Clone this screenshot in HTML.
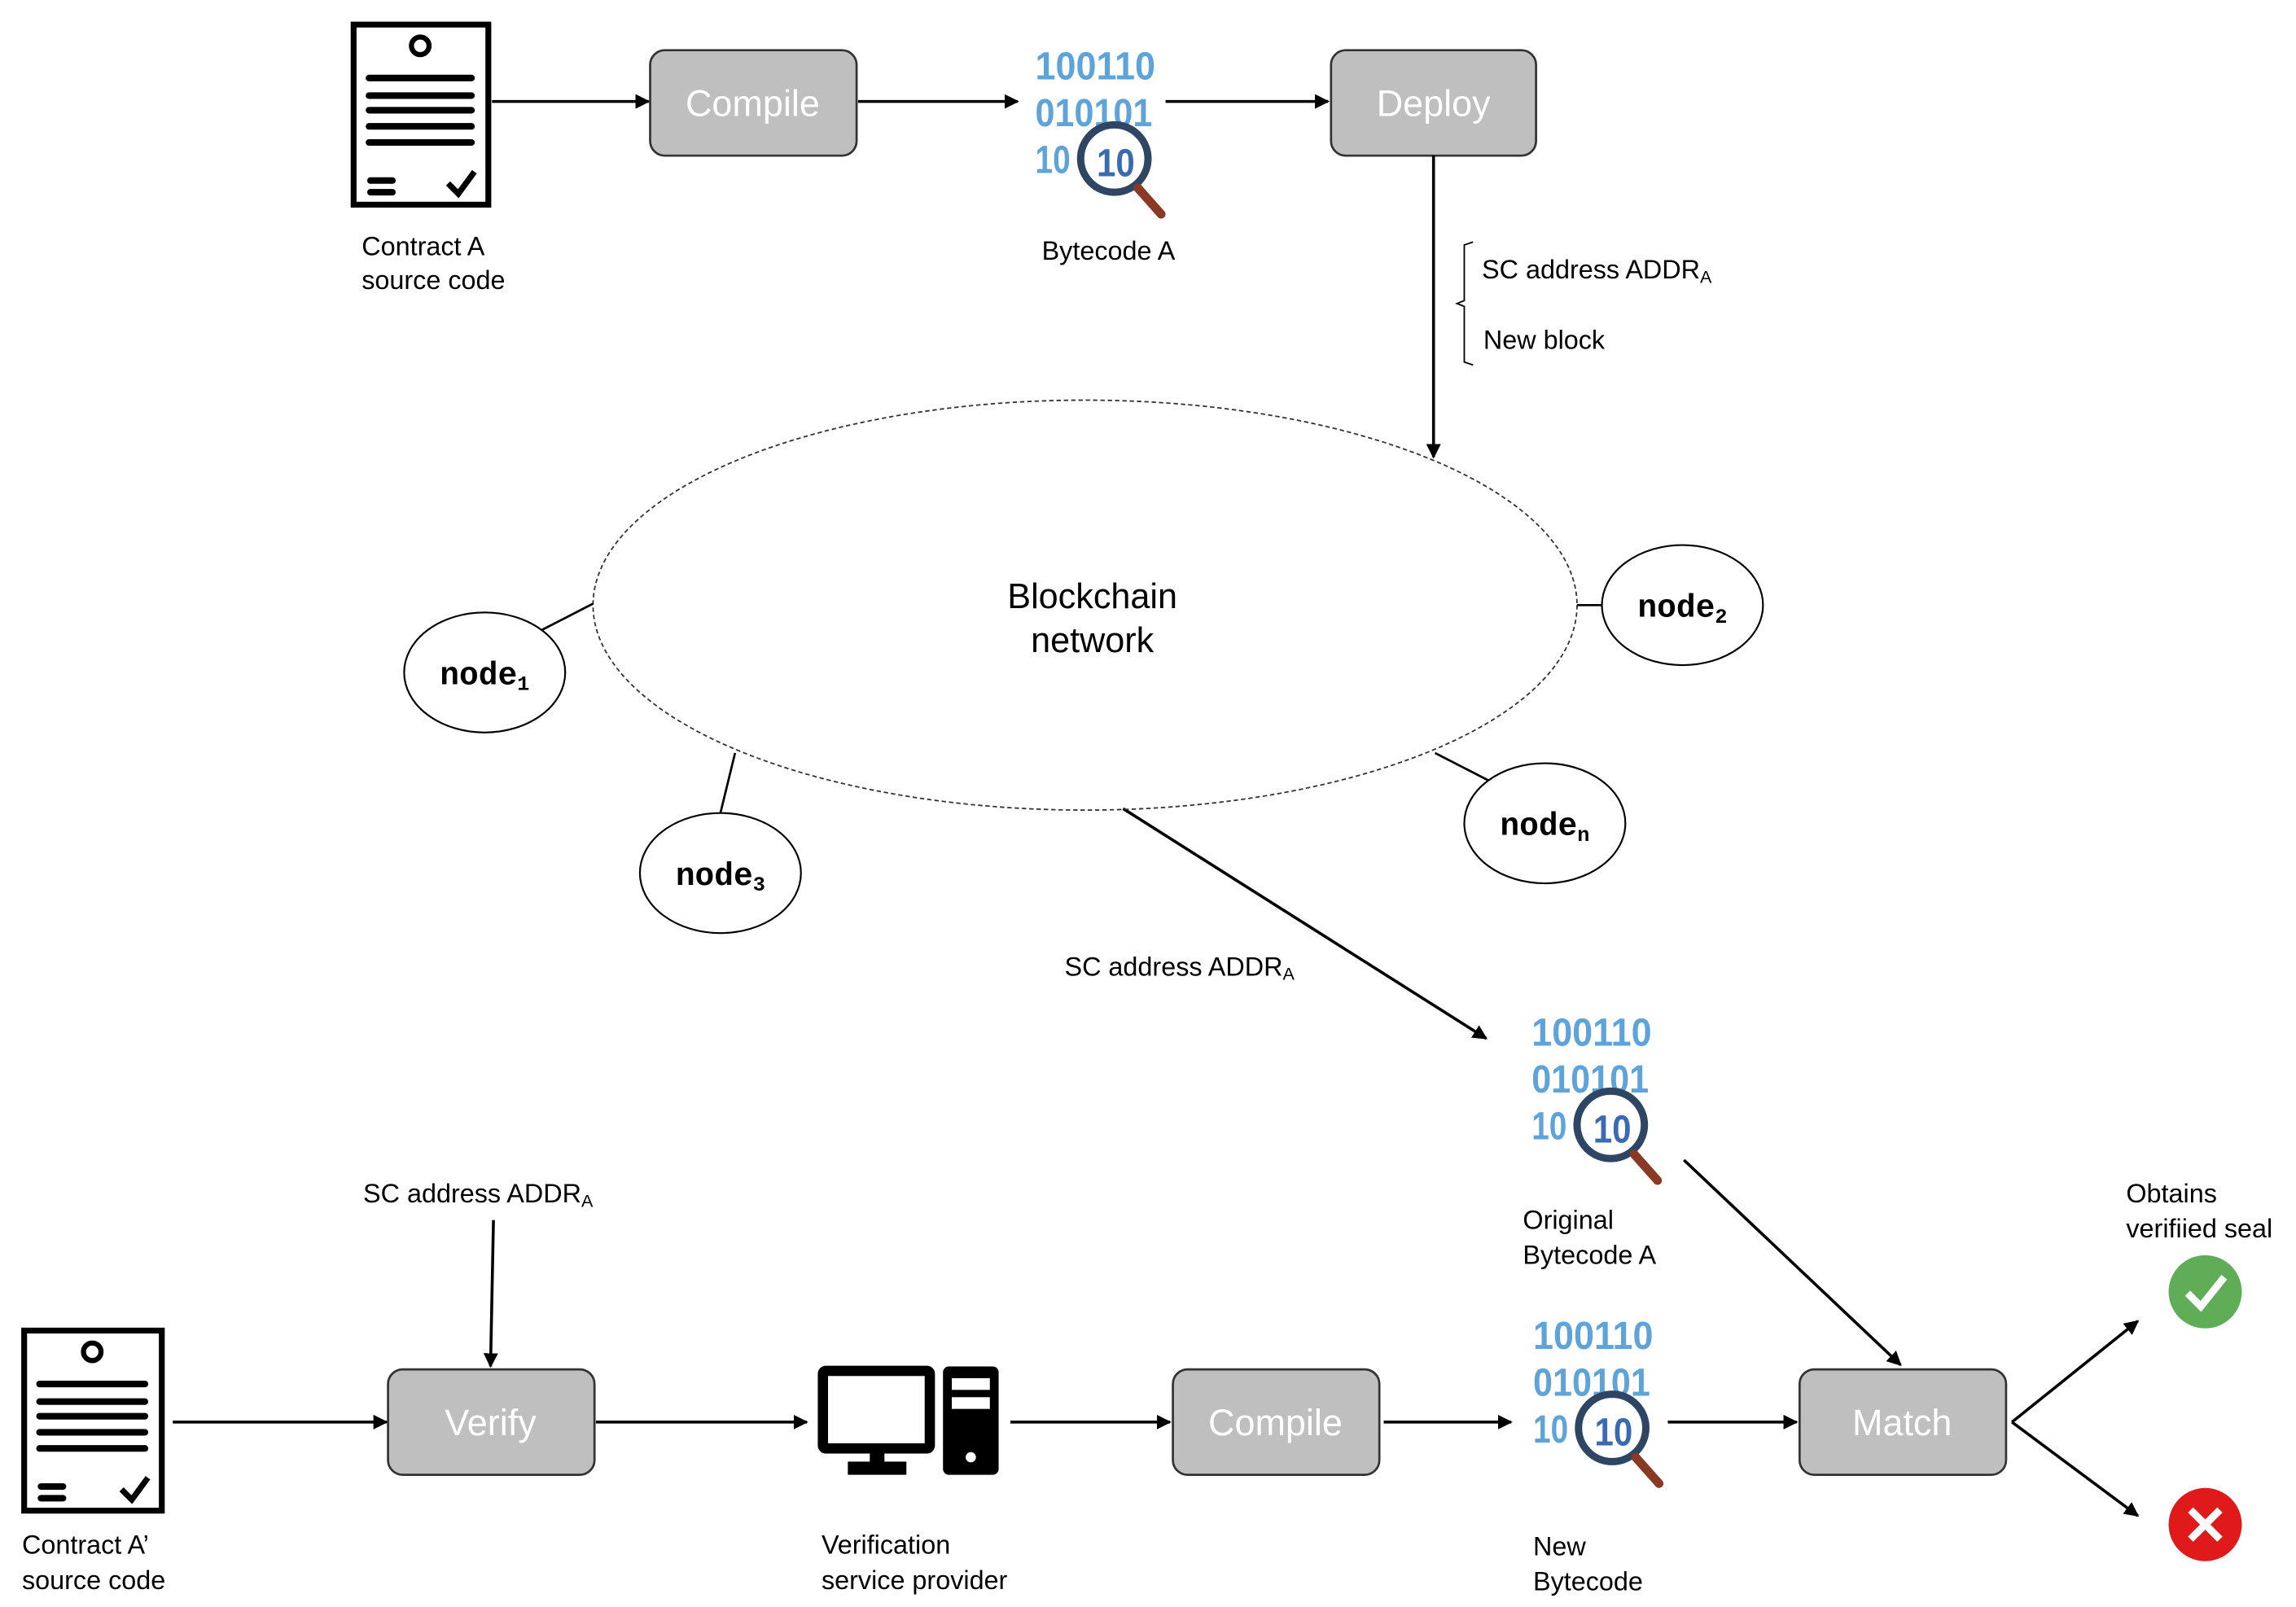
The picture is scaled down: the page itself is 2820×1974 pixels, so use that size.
<!DOCTYPE html>
<html><head><meta charset="utf-8"><style>
html,body{margin:0;padding:0;background:#fff}
svg{display:block}
text{font-family:"Liberation Sans",sans-serif;fill:#000}
.lbl{font-size:18px}
.btn{font-size:25px;fill:#fff;text-anchor:middle}
text.node{font-family:"Liberation Mono","DejaVu Sans Mono",monospace;font-weight:bold;font-size:22px;text-anchor:middle}
.bits{font-family:"Liberation Sans",sans-serif;font-weight:bold;font-size:27px;fill:#5ea3da}
</style></head><body>
<svg width="2820" height="1974" viewBox="0 0 1568 1097" xmlns="http://www.w3.org/2000/svg">
<defs>
<marker id="ar" markerWidth="10" markerHeight="10" refX="9" refY="5" orient="auto" markerUnits="userSpaceOnUse">
<path d="M0,0 L10,5 L0,10 Z" fill="#000"/></marker>
</defs>

<g transform="translate(240,15)">
<rect x="1.5" y="1.5" width="92" height="123" fill="#fff" stroke="#000" stroke-width="4"/>
<circle cx="47" cy="16" r="6" fill="none" stroke="#000" stroke-width="3.5"/>
<g stroke="#000" stroke-width="4.5" stroke-linecap="round"><line x1="12" y1="38" x2="82" y2="38"/><line x1="12" y1="50" x2="82" y2="50"/><line x1="12" y1="60" x2="82" y2="60"/><line x1="12" y1="71" x2="82" y2="71"/><line x1="12" y1="82" x2="82" y2="82"/><line x1="13" y1="108" x2="28" y2="108"/><line x1="13" y1="116" x2="28" y2="116"/></g>
<path d="M66,110 L73,117 L84,102" fill="none" stroke="#000" stroke-width="4"/>
</g>
<text class="lbl" x="247" y="174">Contract A</text>
<text class="lbl" x="247" y="197">source code</text>

<g fill="#bfbfbf" stroke="#333" stroke-width="1.5">
<rect x="444" y="34" width="141" height="72" rx="10"/>
<rect x="909" y="34" width="140" height="72" rx="10"/>
<rect x="265" y="935" width="141" height="72" rx="10"/>
<rect x="801" y="935" width="141" height="72" rx="10"/>
<rect x="1229" y="935" width="141" height="72" rx="10"/>
</g>
<text class="btn" x="514" y="79">Compile</text>
<text class="btn" x="979" y="79">Deploy</text>
<text class="btn" x="335" y="980">Verify</text>
<text class="btn" x="871" y="980">Compile</text>
<text class="btn" x="1299" y="980">Match</text>

<g transform="translate(707,32)">
<text class="bits" x="0" y="22" textLength="82" lengthAdjust="spacingAndGlyphs">100110</text>
<text class="bits" x="0" y="54" textLength="80" lengthAdjust="spacingAndGlyphs">010101</text>
<text class="bits" x="0" y="86" textLength="24" lengthAdjust="spacingAndGlyphs">10</text>
<circle cx="54" cy="76" r="23" fill="#fff" stroke="#2e4664" stroke-width="5"/>
<text class="bits" x="42" y="88" style="fill:#3a6ab0" textLength="26" lengthAdjust="spacingAndGlyphs">10</text>
<line x1="70" y1="96" x2="86" y2="114" stroke="#8a3a24" stroke-width="6" stroke-linecap="round"/>
</g>
<text class="lbl" x="757" y="177" text-anchor="middle">Bytecode A</text>

<g transform="translate(1046,692)">
<text class="bits" x="0" y="22" textLength="82" lengthAdjust="spacingAndGlyphs">100110</text>
<text class="bits" x="0" y="54" textLength="80" lengthAdjust="spacingAndGlyphs">010101</text>
<text class="bits" x="0" y="86" textLength="24" lengthAdjust="spacingAndGlyphs">10</text>
<circle cx="54" cy="76" r="23" fill="#fff" stroke="#2e4664" stroke-width="5"/>
<text class="bits" x="42" y="88" style="fill:#3a6ab0" textLength="26" lengthAdjust="spacingAndGlyphs">10</text>
<line x1="70" y1="96" x2="86" y2="114" stroke="#8a3a24" stroke-width="6" stroke-linecap="round"/>
</g>
<text class="lbl" x="1040" y="839">Original</text>
<text class="lbl" x="1040" y="863">Bytecode A</text>

<g transform="translate(1047,899)">
<text class="bits" x="0" y="22" textLength="82" lengthAdjust="spacingAndGlyphs">100110</text>
<text class="bits" x="0" y="54" textLength="80" lengthAdjust="spacingAndGlyphs">010101</text>
<text class="bits" x="0" y="86" textLength="24" lengthAdjust="spacingAndGlyphs">10</text>
<circle cx="54" cy="76" r="23" fill="#fff" stroke="#2e4664" stroke-width="5"/>
<text class="bits" x="42" y="88" style="fill:#3a6ab0" textLength="26" lengthAdjust="spacingAndGlyphs">10</text>
<line x1="70" y1="96" x2="86" y2="114" stroke="#8a3a24" stroke-width="6" stroke-linecap="round"/>
</g>
<text class="lbl" x="1047" y="1062">New</text>
<text class="lbl" x="1047" y="1086">Bytecode</text>

<g stroke="#000" stroke-width="2" fill="none" marker-end="url(#ar)">
<line x1="336" y1="69" x2="443" y2="69"/>
<line x1="586" y1="69" x2="695" y2="69"/>
<line x1="796" y1="69" x2="907" y2="69"/>
<line x1="979" y1="106" x2="979" y2="312"/>
<line x1="767" y1="552" x2="1015" y2="709"/>
<line x1="1150" y1="792" x2="1298" y2="932"/>
<line x1="118" y1="971" x2="264" y2="971"/>
<line x1="337" y1="833" x2="335" y2="933"/>
<line x1="407" y1="971" x2="551" y2="971"/>
<line x1="690" y1="971" x2="799" y2="971"/>
<line x1="945" y1="971" x2="1032" y2="971"/>
<line x1="1139" y1="971" x2="1227" y2="971"/>
<line x1="1374" y1="971" x2="1460" y2="902"/>
<line x1="1374" y1="971" x2="1460" y2="1035"/>
</g>

<path d="M1006,165 L1000,167 L1000,205 L995,207 L1000,209 L1000,247 L1006,249" fill="none" stroke="#000" stroke-width="1"/>
<text class="lbl" x="1012" y="190">SC address ADDR<tspan font-size="12" dy="3">A</tspan></text>
<text class="lbl" x="1013" y="238">New block</text>

<ellipse cx="741" cy="413" rx="336" ry="140" fill="none" stroke="#333" stroke-width="1" stroke-dasharray="3,2"/>
<text x="746" y="415" font-size="24" text-anchor="middle">Blockchain</text>
<text x="746" y="445" font-size="24" text-anchor="middle">network</text>
<g stroke="#000" stroke-width="1.5">
<line x1="370" y1="430" x2="405" y2="412"/>
<line x1="1077" y1="413" x2="1095" y2="413"/>
<line x1="502" y1="514" x2="492" y2="555"/>
<line x1="980" y1="514" x2="1017" y2="533"/>
</g>
<g fill="#fff" stroke="#000" stroke-width="1.2">
<ellipse cx="331" cy="459" rx="55" ry="41"/>
<ellipse cx="1149" cy="413" rx="55" ry="41"/>
<ellipse cx="492" cy="596" rx="55" ry="41"/>
<ellipse cx="1055" cy="562" rx="55" ry="41"/>
</g>
<text class="node" style="font-family:'Liberation Mono','DejaVu Sans Mono',monospace" x="331" y="467">node<tspan font-size="14" dy="4">1</tspan></text>
<text class="node" style="font-family:'Liberation Mono','DejaVu Sans Mono',monospace" x="1149" y="421">node<tspan font-size="14" dy="4">2</tspan></text>
<text class="node" style="font-family:'Liberation Mono','DejaVu Sans Mono',monospace" x="492" y="604">node<tspan font-size="14" dy="4">3</tspan></text>
<text class="node" style="font-family:'Liberation Mono','DejaVu Sans Mono',monospace" x="1055" y="570">node<tspan font-size="14" dy="4">n</tspan></text>

<text class="lbl" x="727" y="666">SC address ADDR<tspan font-size="12" dy="3">A</tspan></text>
<text class="lbl" x="248" y="821">SC address ADDR<tspan font-size="12" dy="3">A</tspan></text>

<g transform="translate(15,907)">
<rect x="1.5" y="1.5" width="94" height="123" fill="#fff" stroke="#000" stroke-width="4"/>
<circle cx="48" cy="16" r="6" fill="none" stroke="#000" stroke-width="3.5"/>
<g stroke="#000" stroke-width="4.5" stroke-linecap="round"><line x1="12" y1="38" x2="84" y2="38"/><line x1="12" y1="50" x2="84" y2="50"/><line x1="12" y1="60" x2="84" y2="60"/><line x1="12" y1="71" x2="84" y2="71"/><line x1="12" y1="82" x2="84" y2="82"/><line x1="13" y1="108" x2="28" y2="108"/><line x1="13" y1="116" x2="28" y2="116"/></g>
<path d="M68,110 L75,117 L86,102" fill="none" stroke="#000" stroke-width="4"/>
</g>
<text class="lbl" x="15" y="1061">Contract A’</text>
<text class="lbl" x="15" y="1085">source code</text>

<g>
<rect x="562" y="936" width="73" height="53" fill="#fff" stroke="#000" stroke-width="7" rx="2"/>
<rect x="594" y="989" width="10" height="10" fill="#000"/>
<rect x="579" y="998" width="40" height="9" fill="#000"/>
<rect x="644" y="933" width="38" height="74" rx="4" fill="#000"/>
<rect x="650" y="941" width="26" height="8" fill="#fff"/>
<rect x="650" y="954" width="26" height="8" fill="#fff"/>
<circle cx="663" cy="995" r="3.5" fill="#fff"/>
</g>
<text class="lbl" x="561" y="1061">Verification</text>
<text class="lbl" x="561" y="1085">service provider</text>

<text class="lbl" x="1452" y="821">Obtains</text>
<text class="lbl" x="1452" y="845">verifiied seal</text>
<circle cx="1506" cy="882" r="25" fill="#5fae57"/>
<path d="M1494,883 L1503,892 L1519,872" fill="none" stroke="#fff" stroke-width="5"/>
<circle cx="1506" cy="1041" r="25" fill="#e01a1a"/>
<g stroke="#fff" stroke-width="5"><line x1="1496" y1="1031" x2="1516" y2="1051"/><line x1="1516" y1="1031" x2="1496" y2="1051"/></g>
</svg>
</body></html>
